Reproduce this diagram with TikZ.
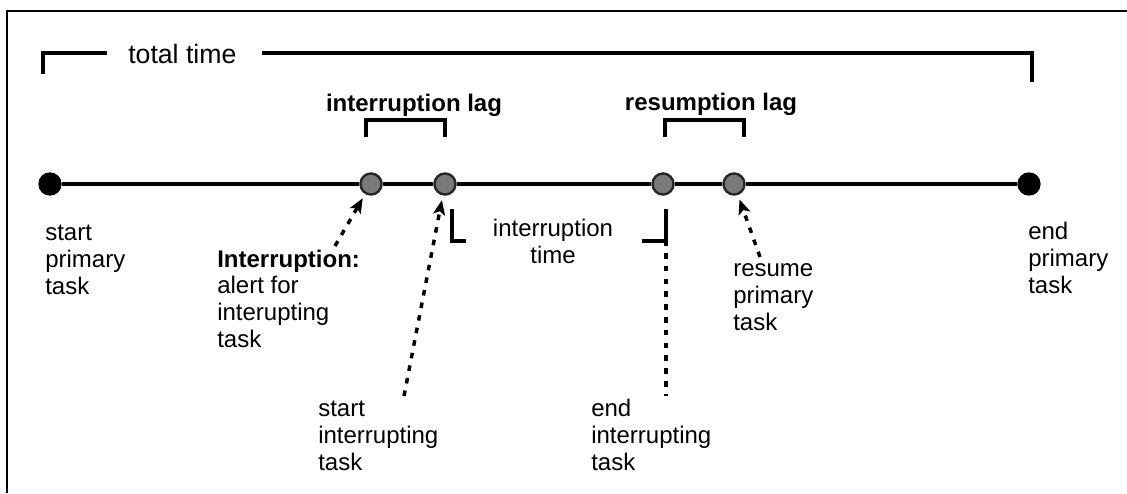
\documentclass[tikz,border=0pt]{standalone}
\usepackage{fontspec}
\setmainfont{Liberation Sans}
\usetikzlibrary{arrows.meta}

\tikzset{
  enddot/.style={circle,fill=black,minimum size=17.5pt,inner sep=0},
  lagdot/.style={circle,fill=black!52,draw=black!85,line width=1.8pt,minimum size=15.8pt,inner sep=0},
  lbl/.style={font=\fontsize{18}{20}\selectfont,align=left,inner sep=0,anchor=base west},
  lagname/.style={font=\bfseries\fontsize{18}{20}\selectfont,inner sep=0,anchor=base},
  bracket/.style={line width=2.3pt},
  hint/.style={line width=2.6pt,dash pattern=on 4.2pt off 5.4pt},
  hintarrow/.style={hint,-{Stealth[length=11pt,width=9pt,inset=2.5pt]},shorten >=3.5pt}
}

\begin{document}
\begin{tikzpicture}[x=0.75pt,y=-0.75pt]
\useasboundingbox (0,0) rectangle (1127,493);
\draw[line width=1.1pt] (7,493) -- (7,11) -- (1127,11);

\node[enddot] (start) at (50,184) {};
\node[enddot] (end) at (1029,184) {};
\node[lagdot] (alert) at (371,184) {};
\node[lagdot] (begin) at (445,184) {};
\node[lagdot] (finish) at (663,184) {};
\node[lagdot] (resume) at (734,184) {};
\draw[line width=2.4pt] (start) -- (alert) -- (begin) -- (finish) -- (resume) -- (end);

\node[font=\fontsize{20}{24}\selectfont,inner sep=0,anchor=base west] (total) at (128,63) {total time};
\draw[bracket] (43,74) -- (43,53) -- (107,53);
\draw[bracket] (262,53) -- (1032,53) -- (1032,82);

\node[lagname] (ilag) at (414,111) {interruption lag};
\draw[bracket] (366,137) -- (366,120) -- (445,120) -- (445,137);
\node[lagname] (rlag) at (711,110) {resumption lag};
\draw[bracket] (665,137) -- (665,120) -- (744,120) -- (744,137);

% base of a multi-line label is its last line
\node[lbl,align=center,anchor=base] (itime) at (553,263) {interruption\\time};
\draw[bracket] (452,209) -- (452,241) -- (466,241);
\draw[bracket] (642,241) -- (666,241);
\draw[bracket] (666,209) -- (666,246);

\node[lbl] (startp) at (45,294) {start\\primary\\task};
\node[lbl] (endp) at (1028,293) {end\\primary\\task};
\node[lbl] (alertl) at (217,347) {\textbf{Interruption:}\\alert for\\interupting\\task};
\node[lbl] (startil) at (318,470) {start\\interrupting\\task};
\node[lbl] (endil) at (591,470) {end\\interrupting\\task};
\node[lbl] (resumel) at (733,330) {resume\\primary\\task};

\coordinate (alerttail) at (335,246);
\coordinate (begintail) at (404,396);
\coordinate (resumetail) at (760,257);
\coordinate (finishtop) at (666,253);
\coordinate (finishtail) at (666,396);
\draw[hintarrow] (alerttail) -- (alert);
\draw[hintarrow] (begintail) -- (begin);
\draw[hintarrow] (resumetail) -- (resume);
\draw[hint] (finishtop) -- (finishtail);
\end{tikzpicture}
\end{document}
